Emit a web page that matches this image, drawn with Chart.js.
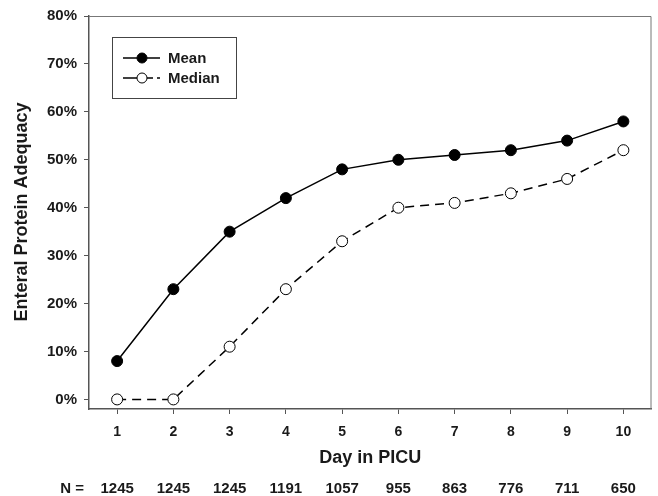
<!DOCTYPE html>
<html>
<head>
<meta charset="utf-8">
<script src="https://cdn.jsdelivr.net/npm/chart.js@4"></script>
<style>
    html, body { margin: 0; padding: 0; background: #fff; }
    #wrap { width: 658px; height: 496px; }
</style>
</head>
<body>
<div id="wrap"><canvas id="chart" width="658" height="496"></canvas></div>
<script>
const DAYS = [1, 2, 3, 4, 5, 6, 7, 8, 9, 10];
const MEAN = [8, 23, 35, 42, 48, 50, 51, 52, 54, 58];
const MEDIAN = [0, 0, 11, 23, 33, 40, 41, 43, 46, 52];
const N_COUNTS = [1245, 1245, 1245, 1191, 1057, 955, 863, 776, 711, 650];
const Y_TICKS = [0, 10, 20, 30, 40, 50, 60, 70, 80];

const FONT = "'Liberation Sans', Arial, sans-serif";
const TEXT_COLOR = '#1a1a1a';
const AXIS_COLOR = '#555';

// frame, titles, N row and legend box
const decorations = {
    id: 'decorations',
    afterDraw(chart) {
        const ctx = chart.ctx;
        const area = chart.chartArea;
        const x = chart.scales.x;

        ctx.save();
        ctx.strokeStyle = '#777';
        ctx.lineWidth = 1;
        ctx.beginPath();
        ctx.moveTo(area.left, area.top + 0.5);
        ctx.lineTo(area.right - 0.5, area.top + 0.5);
        ctx.lineTo(area.right - 0.5, area.bottom);
        ctx.stroke();

        ctx.fillStyle = TEXT_COLOR;
        ctx.font = "bold 18px " + FONT;
        ctx.textAlign = 'center';
        ctx.textBaseline = 'middle';
        ctx.fillText('Day in PICU', (area.left + area.right) / 2, 458);

        ctx.save();
        ctx.translate(22, 212);
        ctx.rotate(-Math.PI / 2);
        ctx.fillText('Enteral Protein Adequacy', 0, 0);
        ctx.restore();

        ctx.font = "bold 15px " + FONT;
        ctx.textAlign = 'right';
        ctx.fillText('N =', 84, 489);
        ctx.textAlign = 'center';
        N_COUNTS.forEach((n, i) => {
            ctx.fillText(String(n), x.getPixelForValue(DAYS[i]), 489);
        });

        // legend
        ctx.strokeStyle = '#444';
        ctx.strokeRect(112.5, 37.5, 124, 61);
        const items = [
            {label: 'Mean', y: 58, dash: [], fill: '#000'},
            {label: 'Median', y: 78, dash: [6, 4], fill: '#fff'},
        ];
        items.forEach(it => {
            ctx.strokeStyle = '#000';
            ctx.lineWidth = 1.5;
            ctx.setLineDash([]);
            ctx.beginPath();
            ctx.moveTo(123, it.y);
            ctx.lineTo(137, it.y);
            ctx.stroke();
            ctx.setLineDash(it.dash);
            ctx.beginPath();
            ctx.moveTo(147, it.y);
            ctx.lineTo(160, it.y);
            ctx.stroke();
            ctx.setLineDash([]);
            ctx.beginPath();
            ctx.arc(142, it.y, 5, 0, Math.PI * 2);
            ctx.fillStyle = it.fill;
            ctx.fill();
            ctx.lineWidth = 1;
            ctx.stroke();
            ctx.fillStyle = TEXT_COLOR;
            ctx.font = "bold 15px " + FONT;
            ctx.textAlign = 'left';
            ctx.fillText(it.label, 168, it.y + 1);
        });
        ctx.restore();
    }
};

new Chart(document.getElementById('chart'), {
    type: 'line',
    data: {
        labels: DAYS,
        datasets: [
            {
                label: 'Mean',
                data: DAYS.map((d, i) => ({x: d, y: MEAN[i]})),
                borderColor: '#000',
                borderWidth: 1.5,
                pointRadius: 5.5,
                pointBackgroundColor: '#000',
                pointBorderColor: '#000',
                pointBorderWidth: 1,
                tension: 0,
            },
            {
                label: 'Median',
                data: DAYS.map((d, i) => ({x: d, y: MEDIAN[i]})),
                borderColor: '#000',
                borderWidth: 1.5,
                borderDash: [9, 6],
                pointRadius: 5.5,
                pointBackgroundColor: '#fff',
                pointBorderColor: '#000',
                pointBorderWidth: 1,
                tension: 0,
            }
        ]
    },
    options: {
        responsive: false,
        animation: false,
        layout: {padding: {left: 0, top: 16, right: 6, bottom: 0}},
        plugins: {
            legend: {display: false},
            tooltip: {enabled: false},
        },
        scales: {
            x: {
                type: 'linear',
                min: 0.5,
                max: 10.5,
                afterBuildTicks: (scale) => { scale.ticks = DAYS.map(v => ({value: v})); },
                afterFit: (scale) => { scale.height = 87; },
                grid: {drawOnChartArea: false, drawTicks: true, tickLength: 5, color: AXIS_COLOR},
                border: {display: true, color: AXIS_COLOR, width: 1.5},
                ticks: {
                    color: TEXT_COLOR,
                    font: {family: FONT, size: 14, weight: 'bold'},
                    padding: 10,
                    maxRotation: 0,
                },
            },
            y: {
                min: -2,
                max: 80,
                afterBuildTicks: (scale) => { scale.ticks = Y_TICKS.map(v => ({value: v})); },
                afterFit: (scale) => { scale.width = 89; },
                grid: {drawOnChartArea: false, drawTicks: true, tickLength: 5, color: AXIS_COLOR},
                border: {display: true, color: AXIS_COLOR, width: 1.5},
                ticks: {
                    color: TEXT_COLOR,
                    font: {family: FONT, size: 15, weight: 'bold'},
                    padding: 7,
                    callback: (v) => v + '%',
                },
            }
        }
    },
    plugins: [decorations]
});
</script>
</body>
</html>
